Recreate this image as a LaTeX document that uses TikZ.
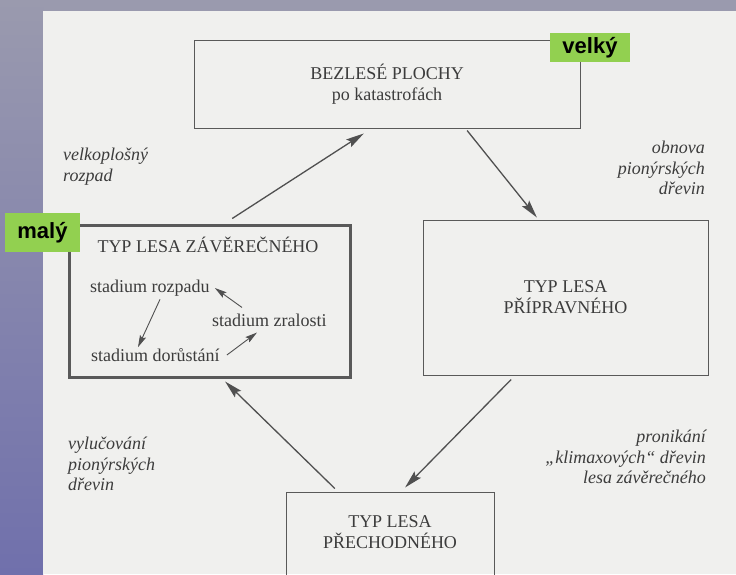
\documentclass[tikz,border=0pt]{standalone}
\usepackage{fontspec}
\setmainfont{Liberation Serif}
\newfontfamily\labfont{Liberation Sans}
\usetikzlibrary{arrows.meta,calc}
\definecolor{outer}{RGB}{154,154,174}
\definecolor{stripbot}{RGB}{112,112,172}
\definecolor{paper}{RGB}{240,240,238}
\definecolor{ink}{RGB}{60,60,60}
\definecolor{lgreen}{RGB}{146,208,80}
\begin{document}
\begin{tikzpicture}[x=1pt,y=-1pt,
  box/.style={draw=ink!85, line width=1pt, inner sep=0pt, align=center,
    font=\fontsize{18}{21}\selectfont, text=ink},
  txt/.style={inner sep=0pt, font=\fontsize{18}{21}\selectfont, text=ink},
  lab/.style={inner sep=0pt, font=\fontsize{18}{20.5}\selectfont\itshape, text=ink},
  tag/.style={fill=lgreen, inner sep=0pt, font=\labfont\bfseries\fontsize{22}{24}\selectfont, text=black},
  arr/.style={draw=ink!90, line width=1.3pt, -{Stealth[length=18pt,width=9pt,inset=3pt]}},
  sarr/.style={draw=ink!90, line width=0.9pt, -{Stealth[length=12pt,width=6.5pt,inset=2pt]}}
]
\useasboundingbox (0,0) rectangle (736,574);
\clip (0,0) rectangle (736,574);
\fill[outer] (0,0) rectangle (736,574);
\shade[top color=outer, bottom color=stripbot] (0,0) rectangle (43,574);
\fill[paper] (43,11) rectangle (736,574);

% boxes
\node[box, minimum width=386pt, minimum height=88pt] (top) at (387,84) {BEZLESÉ PLOCHY\\po katastrofách};
\node[box, line width=3pt, minimum width=281pt, minimum height=152pt] (zav) at (209.5,301) {};
\node[txt] (ztitle) at (208,245) {TYP LESA ZÁVĚREČNÉHO};
\node[box, minimum width=285pt, minimum height=155pt] (prip) at (565.5,297.5) {TYP LESA\\PŘÍPRAVNÉHO};
\node[box, minimum width=208pt, minimum height=100pt] (prech) at (390,542) {};
\node[txt, align=center] (prechtxt) at (390,532.5) {TYP LESA\\PŘECHODNÉHO};

% stages
\node[txt, anchor=west] (rozpad) at (90,288) {stadium rozpadu};
\node[txt, anchor=west] (zralost) at (212,320) {stadium zralosti};
\node[txt, anchor=west] (dorust) at (91,355) {stadium dorůstání};

\draw[sarr] ($(zralost.north west)+(30,-6)$) -- ($(rozpad.east)+(5,0)$);
\draw[sarr] ($(rozpad.south west)+(70,3)$) -- ($(dorust.north west)+(47,-1)$);
\draw[sarr] ($(dorust.east)+(7,0)$) -- ($(zralost.south west)+(45,6)$);

% main cycle
\draw[arr] ($(zav.north west)!0.58!(zav.north east)+(0,-5)$) -- ($(top.south west)!0.44!(top.south east)+(0,5)$);
\draw[arr] ($(top.south west)!0.707!(top.south east)+(0,2)$) -- ($(prip.north west)!0.4!(prip.north east)+(0,-2)$);
\draw[arr] ($(prip.south west)!0.31!(prip.south east)+(0,4)$) -- ($(prech.north west)!0.572!(prech.north east)+(0,-4)$);
\draw[arr] ($(prech.north west)!0.236!(prech.north east)+(0,-3)$) -- ($(zav.south west)!0.555!(zav.south east)+(0,3)$);

% labels
\node[lab, align=left, anchor=north west] (l1) at (63,148) {velkoplošný\\rozpad};
\node[lab, align=right, anchor=north east] (l2) at (705,141) {obnova\\pionýrských\\dřevin};
\node[lab, align=left, anchor=north west] (l3) at (68,437) {vylučování\\pionýrských\\dřevin};
\node[lab, align=right, anchor=north east] (l4) at (706,430) {pronikání\\„klimaxových“ dřevin\\lesa závěrečného};

% tags
\node[tag, minimum width=80pt, minimum height=29pt] (velky) at (590,47.5) {velký};
\node[tag, minimum width=75pt, minimum height=39pt] (maly) at (42.5,232.5) {malý};
\end{tikzpicture}
\end{document}
